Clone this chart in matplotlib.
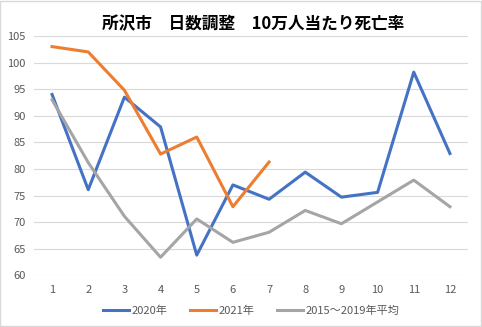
import matplotlib
matplotlib.use('Agg')
import matplotlib.pyplot as plt
from matplotlib.patches import Rectangle

plt.rcParams['font.family'] = ['Noto Sans CJK JP', 'DejaVu Sans']

months = [1, 2, 3, 4, 5, 6, 7, 8, 9, 10, 11, 12]
rate_2020 = [94.0, 76.1, 93.5, 87.9, 63.8, 77.0, 74.3, 79.4, 74.7, 75.6, 98.2, 82.9]
rate_2021 = [103.0, 102.0, 94.8, 82.8, 86.0, 72.9, 81.3]
rate_avg = [93.0, 81.2, 71.1, 63.4, 70.6, 66.2, 68.1, 72.2, 69.7, 73.8, 77.9, 72.9]
labels = ['2020年', '2021年', '2015～2019年平均']
title = '所沢市　日数調整　10万人当たり死亡率'

colors = ['#4472C4', '#ED7D31', '#A5A5A5']
text_color = '#595959'

fig = plt.figure(figsize=(4.82, 3.27), dpi=100)
fig.patch.set_facecolor('white')
fig.patches.append(Rectangle((0.001, 0.002), 0.997, 0.995, transform=fig.transFigure,
                             fill=False, edgecolor='#D9D9D9', linewidth=1.0))

ax = fig.add_axes([0.0705, 0.158, 0.9005, 0.732])
for side in ['top', 'right', 'left', 'bottom']:
    ax.spines[side].set_visible(False)

ax.plot(months, rate_2020, color=colors[0], lw=2.2, label=labels[0])
ax.plot(months[:len(rate_2021)], rate_2021, color=colors[1], lw=2.2, label=labels[1])
ax.plot(months, rate_avg, color=colors[2], lw=2.2, label=labels[2])

ax.set_xlim(0.5, 12.5)
ax.set_ylim(60, 105)
ax.set_yticks(range(60, 106, 5))
ax.set_xticks(months)
ax.grid(axis='y', color='#D9D9D9', lw=0.8)
ax.set_axisbelow(True)
ax.tick_params(length=0, labelsize=8, labelcolor=text_color)
ax.tick_params(axis='y', pad=6)
ax.tick_params(axis='x', pad=7)

fig.text(0.525, 0.925, title, ha='center', va='center', fontsize=12,
         fontweight='bold', color='black')

ax.legend(loc='upper center', bbox_to_anchor=(0.5, -0.085), ncol=3, frameon=False,
          fontsize=8, labelcolor=text_color, handlelength=2.4, handletextpad=0.2,
          columnspacing=2.0)

fig.savefig('out.png', dpi=100)
